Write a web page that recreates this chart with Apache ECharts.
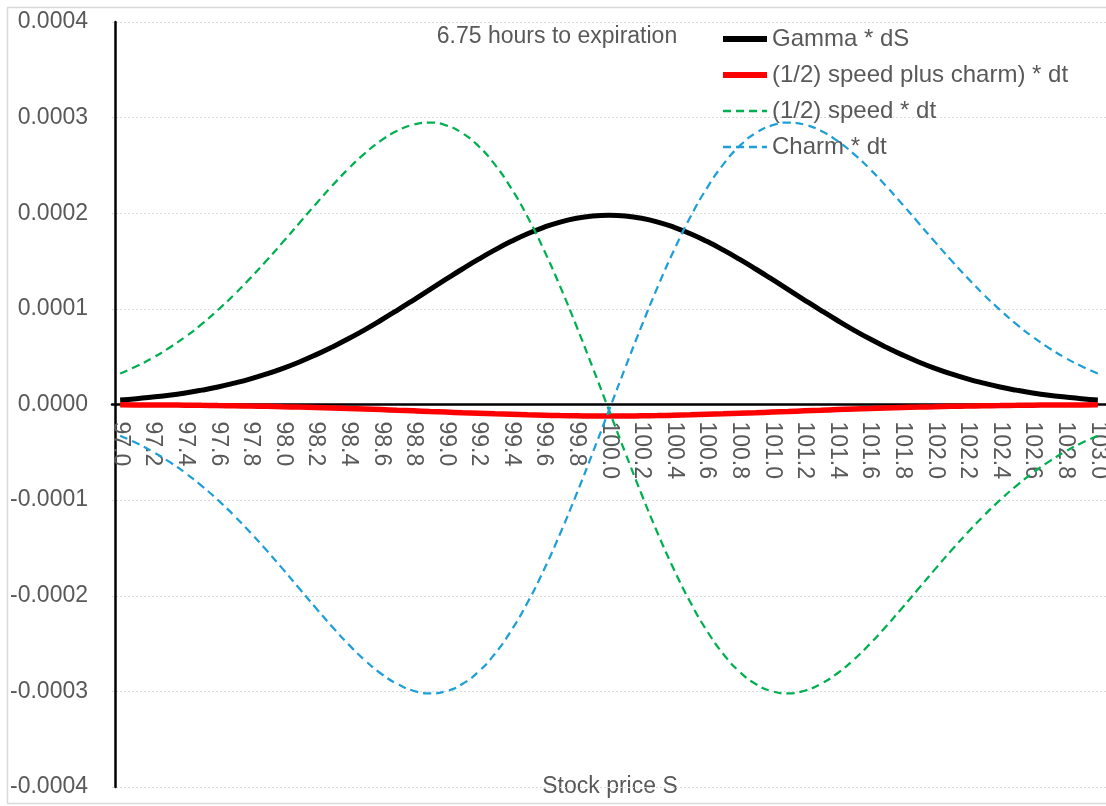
<!DOCTYPE html>
<html>
<head>
<meta charset="utf-8">
<title>Gamma, speed and charm near expiration</title>
<script src="https://cdn.jsdelivr.net/npm/echarts@6/dist/echarts.min.js"></script>
<style>
  html, body { margin: 0; padding: 0; background: #ffffff; }
  #chart { width: 1106px; height: 806px; }
</style>
</head>
<body>
<div id="chart"></div>
<script>
// Stock price grid (x axis categories)
const categories = [
  '97.0','97.1','97.2','97.3','97.4','97.5','97.6','97.7','97.8','97.9',
  '98.0','98.1','98.2','98.3','98.4','98.5','98.6','98.7','98.8','98.9',
  '99.0','99.1','99.2','99.3','99.4','99.5','99.6','99.7','99.8','99.9',
  '100.0','100.1','100.2','100.3','100.4','100.5','100.6','100.7','100.8','100.9',
  '101.0','101.1','101.2','101.3','101.4','101.5','101.6','101.7','101.8','101.9',
  '102.0','102.1','102.2','102.3','102.4','102.5','102.6','102.7','102.8','102.9',
  '103.0'
];

// Gamma * dS
const gammaDS = [
  0.0000048, 0.0000061, 0.0000078, 0.0000097, 0.0000121, 0.0000150, 0.0000183, 0.0000223, 0.0000268, 0.0000320,
  0.0000379, 0.0000445, 0.0000519, 0.0000600, 0.0000687, 0.0000781, 0.0000881, 0.0000985, 0.0001092, 0.0001201,
  0.0001310, 0.0001417, 0.0001520, 0.0001617, 0.0001706, 0.0001786, 0.0001853, 0.0001908, 0.0001948, 0.0001972,
  0.0001980,
  0.0001972, 0.0001948, 0.0001908, 0.0001853, 0.0001786, 0.0001706, 0.0001617, 0.0001520, 0.0001417, 0.0001310,
  0.0001201, 0.0001092, 0.0000985, 0.0000881, 0.0000781, 0.0000687, 0.0000600, 0.0000519, 0.0000445, 0.0000379,
  0.0000320, 0.0000268, 0.0000223, 0.0000183, 0.0000150, 0.0000121, 0.0000097, 0.0000078, 0.0000061, 0.0000048
];

// ((1/2) speed plus charm) * dt
const speedPlusCharm = [
  -0.0000003, -0.0000004, -0.0000005, -0.0000006, -0.0000007, -0.0000009, -0.0000011, -0.0000013, -0.0000016, -0.0000019,
  -0.0000023, -0.0000027, -0.0000031, -0.0000036, -0.0000042, -0.0000047, -0.0000053, -0.0000060, -0.0000066, -0.0000073,
  -0.0000079, -0.0000086, -0.0000092, -0.0000098, -0.0000103, -0.0000108, -0.0000112, -0.0000116, -0.0000118, -0.0000120,
  -0.0000120,
  -0.0000120, -0.0000118, -0.0000116, -0.0000112, -0.0000108, -0.0000103, -0.0000098, -0.0000092, -0.0000086, -0.0000079,
  -0.0000073, -0.0000066, -0.0000060, -0.0000053, -0.0000047, -0.0000042, -0.0000036, -0.0000031, -0.0000027, -0.0000023,
  -0.0000019, -0.0000016, -0.0000013, -0.0000011, -0.0000009, -0.0000007, -0.0000006, -0.0000005, -0.0000004, -0.0000003
];

// (1/2) speed * dt
const halfSpeed = [
  0.0000324, 0.0000400, 0.0000488, 0.0000591, 0.0000708, 0.0000840, 0.0000988, 0.0001149, 0.0001324, 0.0001508,
  0.0001701, 0.0001898, 0.0002095, 0.0002285, 0.0002464, 0.0002624, 0.0002759, 0.0002862, 0.0002927, 0.0002948,
  0.0002919, 0.0002838, 0.0002701, 0.0002508, 0.0002261, 0.0001963, 0.0001618, 0.0001235, 0.0000821, 0.0000386,
  -0.0000060,
  -0.0000505, -0.0000939, -0.0001351, -0.0001731, -0.0002071, -0.0002364, -0.0002606, -0.0002793, -0.0002923, -0.0002998,
  -0.0003021, -0.0002993, -0.0002922, -0.0002813, -0.0002672, -0.0002506, -0.0002322, -0.0002126, -0.0001925, -0.0001724,
  -0.0001528, -0.0001340, -0.0001163, -0.0000999, -0.0000850, -0.0000716, -0.0000597, -0.0000493, -0.0000403, -0.0000327
];

// Charm * dt
const charmDt = [
  -0.0000327, -0.0000403, -0.0000493, -0.0000597, -0.0000716, -0.0000850, -0.0000999, -0.0001163, -0.0001340, -0.0001528,
  -0.0001724, -0.0001925, -0.0002126, -0.0002322, -0.0002506, -0.0002672, -0.0002813, -0.0002922, -0.0002993, -0.0003021,
  -0.0002998, -0.0002923, -0.0002793, -0.0002606, -0.0002364, -0.0002071, -0.0001731, -0.0001351, -0.0000939, -0.0000505,
  -0.0000060,
  0.0000386, 0.0000821, 0.0001235, 0.0001618, 0.0001963, 0.0002261, 0.0002508, 0.0002701, 0.0002838, 0.0002919,
  0.0002948, 0.0002927, 0.0002862, 0.0002759, 0.0002624, 0.0002464, 0.0002285, 0.0002095, 0.0001898, 0.0001701,
  0.0001508, 0.0001324, 0.0001149, 0.0000988, 0.0000840, 0.0000708, 0.0000591, 0.0000488, 0.0000400, 0.0000324
];

const seriesNames = ['Gamma * dS', '(1/2) speed plus charm) * dt', '(1/2) speed * dt', 'Charm * dt'];
const chartTitle = '6.75 hours to expiration';
const xAxisTitle = 'Stock price S';

const textFont = '"Liberation Sans", Arial, sans-serif';
const textGrey = '#595959';

// Plot box: 22px from the top, 19px from the bottom, so zero sits halfway (765 / 2)
const gridTop = 22;
const gridBottom = 19;
const zeroLift = (806 - gridTop - gridBottom) / 2;

const chart = echarts.init(document.getElementById('chart'), null, { renderer: 'canvas' });

chart.setOption({
  animation: false,
  backgroundColor: '#ffffff',
  grid: { left: 112, right: 0, top: gridTop, bottom: gridBottom, containLabel: false, outerBoundsMode: 'none' },
  legend: {
    orient: 'vertical',
    left: 720,
    top: 27,
    itemWidth: 44,
    itemHeight: 14,
    itemGap: 12,
    padding: 0,
    itemStyle: { opacity: 0 },
    data: [
      { name: seriesNames[0], lineStyle: { width: 6 } },
      { name: seriesNames[1], lineStyle: { width: 6 } },
      { name: seriesNames[2], lineStyle: { width: 2.5 } },
      { name: seriesNames[3], lineStyle: { width: 2.5 } }
    ],
    textStyle: { fontFamily: textFont, fontSize: 24, color: textGrey, lineHeight: 24 }
  },
  xAxis: {
    type: 'category',
    data: categories,
    boundaryGap: true,
    position: 'bottom',
    offset: -zeroLift,
    axisLine: { onZero: false, lineStyle: { color: '#000000', width: 2.5 } },
    axisTick: { show: false },
    splitLine: { show: false },
    axisLabel: {
      interval: 1,
      rotate: -90,
      margin: 17,
      fontFamily: textFont,
      fontSize: 23,
      color: textGrey
    }
  },
  yAxis: {
    type: 'value',
    min: -0.0004,
    max: 0.0004,
    interval: 0.0001,
    offset: -3,
    axisLine: { show: true, onZero: false, lineStyle: { color: '#000000', width: 2.5 } },
    axisTick: { show: false },
    splitLine: { show: true, lineStyle: { color: '#d9d9d9', width: 1, type: [2, 2] } },
    axisLabel: {
      margin: 27,
      fontFamily: textFont,
      fontSize: 23,
      color: textGrey,
      formatter: v => v.toFixed(4)
    }
  },
  graphic: [
    {
      type: 'rect',
      z: -10,
      silent: true,
      shape: { x: 7.5, y: 7.5, width: 1110, height: 796 },
      style: { fill: null, stroke: '#d9d9d9', lineWidth: 1.5 }
    },
    {
      type: 'text',
      x: 557,
      y: 37,
      style: {
        text: chartTitle,
        fontFamily: textFont,
        fontSize: 23,
        fill: textGrey,
        textAlign: 'center',
        textVerticalAlign: 'middle'
      }
    },
    {
      type: 'text',
      x: 610,
      y: 787,
      style: {
        text: xAxisTitle,
        fontFamily: textFont,
        fontSize: 23,
        fill: textGrey,
        textAlign: 'center',
        textVerticalAlign: 'middle'
      }
    }
  ],
  series: [
    {
      name: seriesNames[0],
      type: 'line',
      data: gammaDS,
      showSymbol: false,
      symbol: 'none',
      smooth: true,
      lineStyle: { color: '#000000', width: 5 },
      itemStyle: { color: '#000000' },
      z: 3
    },
    {
      name: seriesNames[1],
      type: 'line',
      data: speedPlusCharm,
      showSymbol: false,
      symbol: 'none',
      smooth: true,
      lineStyle: { color: '#ff0000', width: 5.5 },
      itemStyle: { color: '#ff0000' },
      z: 4
    },
    {
      name: seriesNames[2],
      type: 'line',
      data: halfSpeed,
      showSymbol: false,
      symbol: 'none',
      smooth: true,
      lineStyle: { color: '#00b050', width: 2.25, type: [8, 5] },
      itemStyle: { color: '#00b050' },
      z: 5
    },
    {
      name: seriesNames[3],
      type: 'line',
      data: charmDt,
      showSymbol: false,
      symbol: 'none',
      smooth: true,
      lineStyle: { color: '#1f9fd8', width: 2.25, type: [8, 5] },
      itemStyle: { color: '#1f9fd8' },
      z: 5
    }
  ]
});
</script>
</body>
</html>
